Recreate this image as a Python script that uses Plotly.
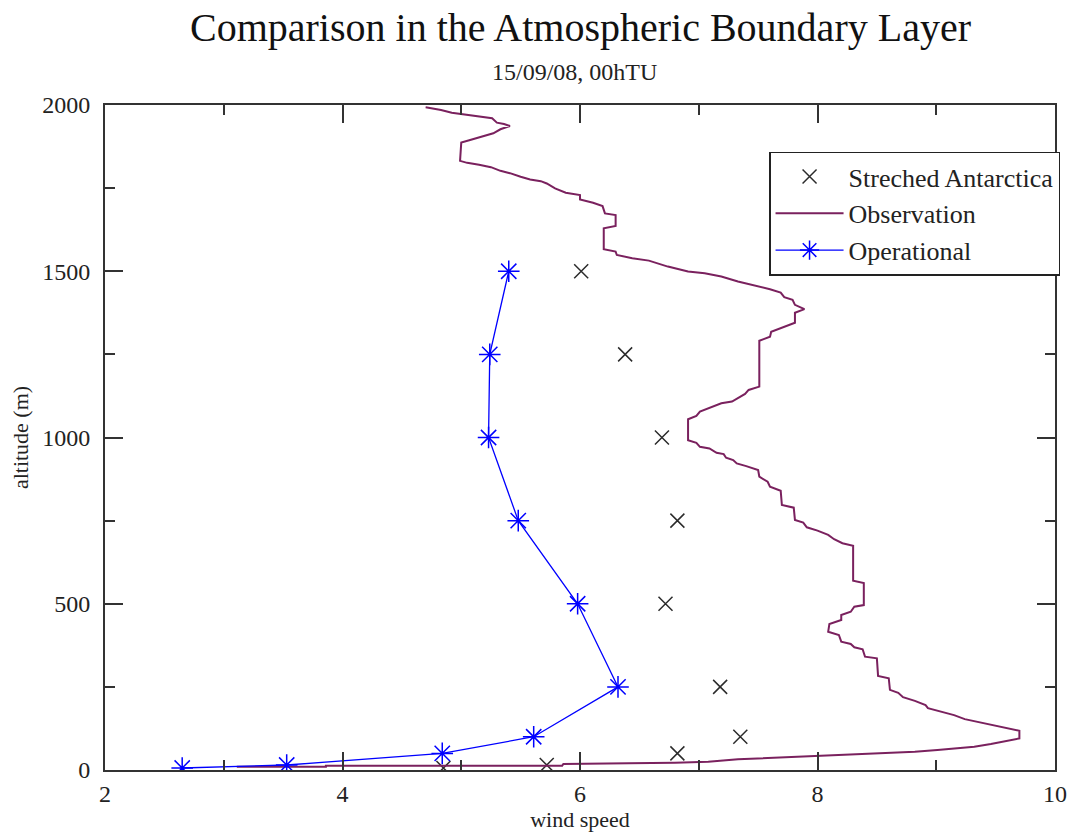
import plotly.graph_objects as go

# Observed wind profile (radiosonde), speed in m/s vs altitude in m
obs_speed = [3.11, 3.86, 3.86, 5.85, 5.86, 6.16, 6.41, 6.80, 7.08, 7.33, 7.75, 8.00,
             8.31, 8.59, 8.82, 9.01, 9.18, 9.32, 9.46, 9.61, 9.70, 9.70, 9.63, 9.54,
             9.43, 9.32, 9.24, 9.15, 9.05, 8.93, 8.91, 8.82, 8.72, 8.68, 8.61, 8.60,
             8.51, 8.50, 8.40, 8.38, 8.31, 8.28, 8.20, 8.18, 8.09, 8.10, 8.20, 8.20,
             8.28, 8.31, 8.39, 8.39, 8.30, 8.30, 8.21, 8.14, 8.09, 8.00, 7.91, 7.88,
             7.81, 7.80, 7.70, 7.69, 7.60, 7.58, 7.51, 7.50, 7.40, 7.32, 7.29, 7.23,
             7.21, 7.15, 7.09, 7.01, 6.98, 6.91, 6.91, 6.98, 7.01, 7.11, 7.19, 7.28,
             7.39, 7.42, 7.51, 7.51, 7.60, 7.61, 7.70, 7.81, 7.81, 7.89, 7.81, 7.79,
             7.72, 7.69, 7.60, 7.47, 7.33, 7.19, 7.05, 6.91, 6.74, 6.58, 6.44, 6.31,
             6.30, 6.20, 6.20, 6.30, 6.30, 6.21, 6.19, 6.11, 6.00, 6.00, 5.88, 5.79,
             5.72, 5.67, 5.58, 5.50, 5.41, 5.33, 5.25, 5.15, 5.05, 4.99, 5.00, 5.06,
             5.15, 5.27, 5.33, 5.41, 5.36, 5.30, 5.26, 5.15, 4.99, 4.92, 4.83, 4.70]
obs_alt = [10, 10, 13, 13, 18, 18, 20, 22, 25, 32, 38, 42,
           48, 52, 55, 60, 65, 70, 78, 88, 95, 118, 123, 130,
           138, 145, 153, 165, 175, 186, 195, 208, 219, 232, 241, 276,
           283, 336, 341, 363, 369, 379, 386, 406, 416, 439, 451, 466,
           476, 491, 496, 562, 569, 674, 682, 694, 707, 720, 730, 744,
           752, 789, 797, 840, 852, 867, 882, 902, 914, 922, 932, 939,
           950, 954, 967, 972, 984, 992, 1055, 1065, 1078, 1093, 1103, 1108,
           1131, 1143, 1153, 1291, 1303, 1318, 1331, 1345, 1375, 1386, 1399, 1414,
           1422, 1436, 1446, 1456, 1469, 1484, 1494, 1499, 1514, 1532, 1539, 1549,
           1559, 1566, 1629, 1636, 1669, 1674, 1696, 1706, 1716, 1729, 1736, 1749,
           1764, 1771, 1776, 1784, 1795, 1802, 1813, 1820, 1826, 1832, 1887, 1893,
           1903, 1915, 1927, 1937, 1943, 1947, 1960, 1965, 1973, 1977, 1985, 1993]

# Model levels (m) and simulated wind speeds
model_alt = [6, 15, 50, 100, 250, 500, 750, 1000, 1250, 1500]
stretched_speed = [4.85, 5.72, 6.82, 7.35, 7.18, 6.72, 6.82, 6.69, 6.38, 6.01]
operational_speed = [2.65, 3.53, 4.84, 5.61, 6.32, 5.98, 5.48, 5.23, 5.24, 5.40]

FONT = "Liberation Serif"

fig = go.Figure()

fig.add_trace(go.Scatter(
    x=stretched_speed, y=model_alt, mode="markers", name="Streched Antarctica",
    marker=dict(symbol="x-thin-open", size=14, color="#2b2b2b",
                line=dict(width=1.5, color="#2b2b2b")),
))
fig.add_trace(go.Scatter(
    x=obs_speed, y=obs_alt, mode="lines", name="Observation",
    line=dict(color="#7a215e", width=2),
))
fig.add_trace(go.Scatter(
    x=operational_speed, y=model_alt, mode="lines+markers", name="Operational",
    line=dict(color="#0000ff", width=1.3),
    marker=dict(symbol="asterisk-open", size=18, color="#0000ff",
                line=dict(width=1.5, color="#0000ff")),
))

axis_common = dict(
    showline=True, linecolor="#333333", linewidth=2, mirror="ticks",
    ticks="inside", ticklen=18, tickwidth=1.5, tickcolor="#333333",
    showgrid=False, zeroline=False, automargin=False,
    tickfont=dict(family=FONT, size=24, color="#222222"),
)

fig.update_xaxes(
    range=[2, 10], tick0=2, dtick=2, ticklabelstandoff=1,
    minor=dict(ticks="inside", ticklen=10, dtick=1, tickwidth=1.5, tickcolor="#333333"),
    title=dict(text="wind speed", font=dict(family=FONT, size=22, color="#222222"), standoff=3),
    **axis_common,
)
fig.update_yaxes(
    range=[0, 2000], tick0=0, dtick=500, ticklabelstandoff=8,
    minor=dict(ticks="inside", ticklen=10, dtick=250, tickwidth=1.5, tickcolor="#333333"),
    title=dict(text="altitude (m)", font=dict(family=FONT, size=22, color="#222222"), standoff=8),
    **axis_common,
)

fig.update_layout(
    width=1072, height=833,
    margin=dict(l=105, r=14, t=105, b=63),
    paper_bgcolor="white", plot_bgcolor="white",
    font=dict(family=FONT, color="#222222"),
    showlegend=True,
    legend=dict(
        x=0.699, y=0.93, xanchor="left", yanchor="top",
        bgcolor="white", bordercolor="#222222", borderwidth=1.5,
        font=dict(family=FONT, size=26, color="#222222"),
        tracegroupgap=0, itemwidth=68,
    ),
    annotations=[
        dict(text="Comparison in the Atmospheric Boundary Layer", xref="paper", yref="paper",
             x=0.5, y=1.1158, xanchor="center", yanchor="middle", showarrow=False,
             font=dict(family=FONT, size=40, color="#111111")),
        dict(text="15/09/08, 00hTU", xref="paper", yref="paper",
             x=0.494, y=1.0496, xanchor="center", yanchor="middle", showarrow=False,
             font=dict(family=FONT, size=24, color="#222222")),
    ],
)

fig.write_html("out.html")
